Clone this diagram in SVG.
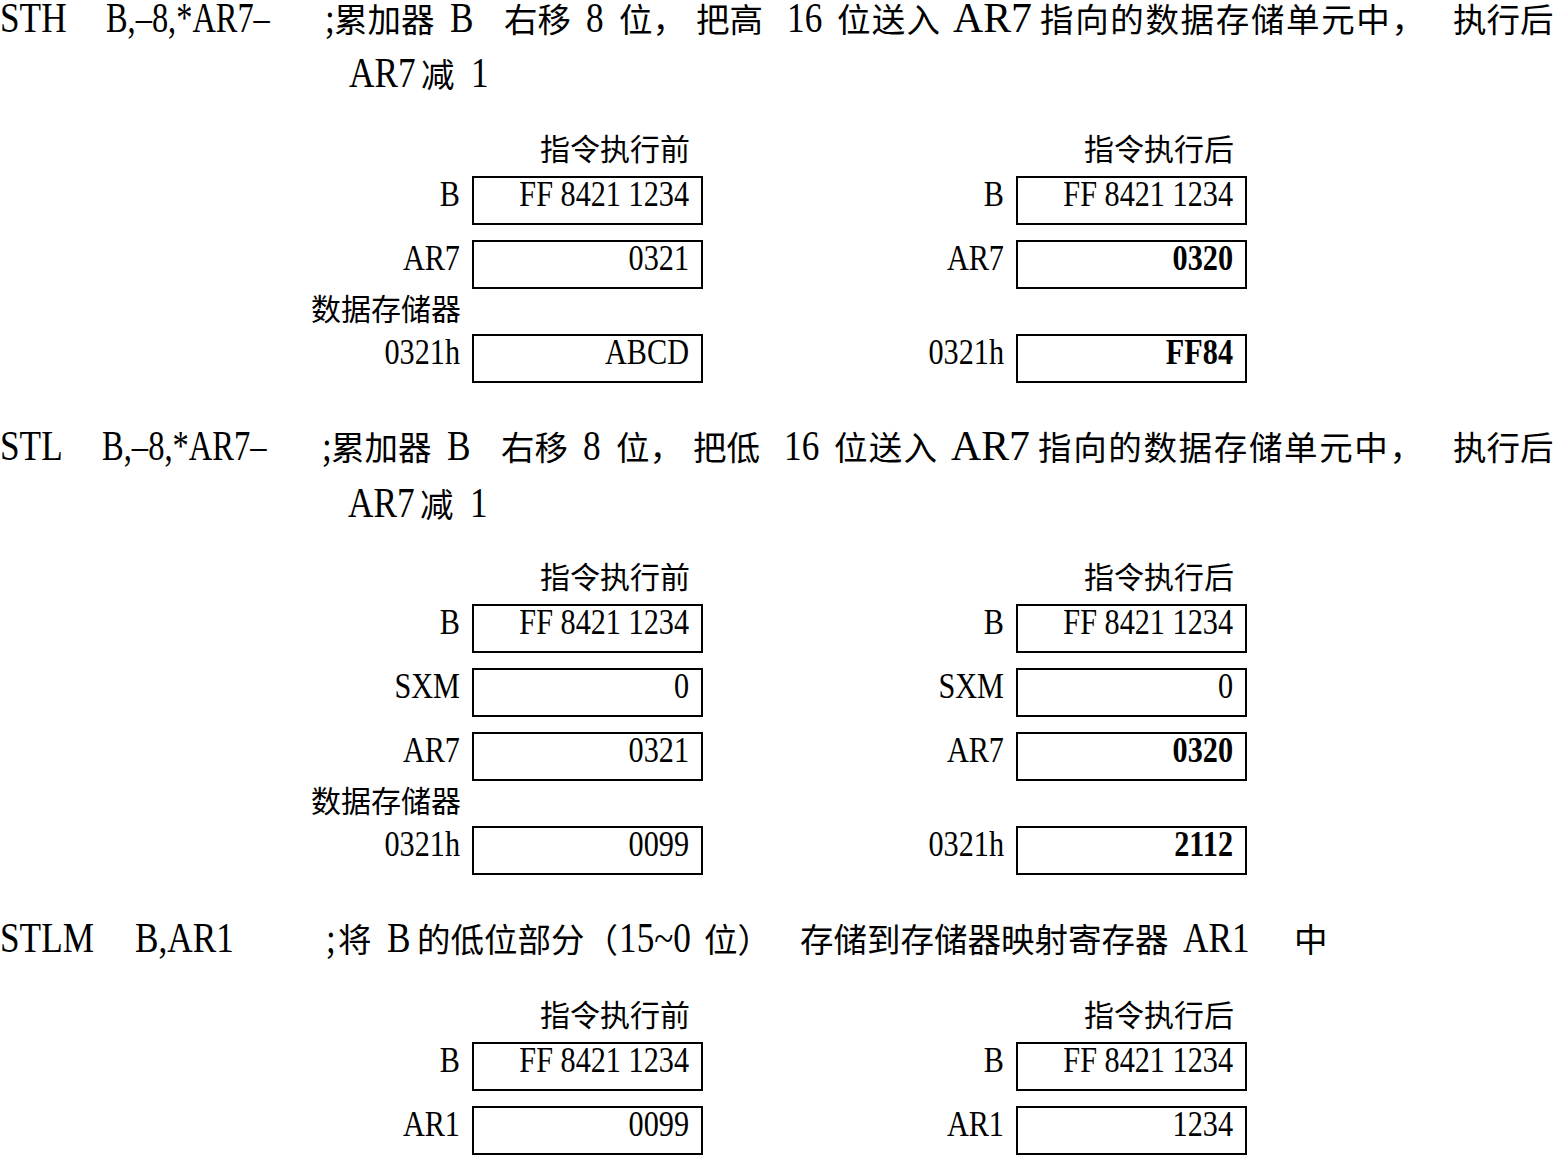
<svg xmlns="http://www.w3.org/2000/svg" width="1554" height="1156" viewBox="0 0 1554 1156">
<style>
.l{font-family:"Liberation Serif","Times New Roman",serif;fill:#000}
.c{font-family:"Noto Sans CJK SC","Noto Sans CJK TC",sans-serif;fill:#000}
.big{font-size:42px}
.sm{font-size:36px}
.cb{font-size:33.5px}
.cs{font-size:30px}
.e{text-anchor:end}
.b{font-weight:bold}
.box{fill:none;stroke:#000;stroke-width:2}
</style>
<rect width="1554" height="1156" fill="#fff"/>

<!-- ===== Section 1: STH ===== -->
<g id="sec-sth">
  <g id="sth-text">
    <text class="l big" transform="translate(0 32) scale(.84 1)">STH</text>
    <text class="l big" transform="translate(106 32) scale(.84 1)" textLength="195" lengthAdjust="spacingAndGlyphs">B,–8,*AR7–</text>
    <text class="l big" transform="translate(325 32) scale(.84 1)">;</text>
    <text class="c cb" x="334" y="32">累加器</text>
    <text class="l big" transform="translate(450 32) scale(.84 1)">B</text>
    <text class="c cb" x="504" y="32">右移</text>
    <text class="l big" transform="translate(586 32) scale(.84 1)">8</text>
    <text class="c cb" x="619" y="32">位，</text>
    <text class="c cb" x="696" y="32">把高</text>
    <text class="l big" transform="translate(787 32) scale(.84 1)">16</text>
    <text class="c cb" x="837" y="32" textLength="103" lengthAdjust="spacing">位送入</text>
    <text class="l big" transform="translate(953 32) scale(.84 1)" textLength="94" lengthAdjust="spacingAndGlyphs">AR7</text>
    <text class="c cb" x="1040" y="32" textLength="385" lengthAdjust="spacing">指向的数据存储单元中，</text>
    <text class="c cb" x="1453" y="32">执行后</text>
    <text class="l big" transform="translate(349 87) scale(.84 1)">AR7</text>
    <text class="c cb" x="421" y="87">减</text>
    <text class="l big" transform="translate(471 87) scale(.84 1)">1</text>
  </g>
  <g id="sth-before">
    <text class="c cs e" x="690" y="160">指令执行前</text>
    <g id="sth-before-B">
      <text class="l sm e" transform="translate(460 206) scale(.84 1)">B</text>
      <rect class="box" x="473" y="177" width="229" height="47"/>
      <text class="l sm e" transform="translate(689 206) scale(.84 1)">FF 8421 1234</text>
    </g>
    <g id="sth-before-AR7">
      <text class="l sm e" transform="translate(460 270) scale(.84 1)">AR7</text>
      <rect class="box" x="473" y="241" width="229" height="47"/>
      <text class="l sm e" transform="translate(689 270) scale(.84 1)">0321</text>
    </g>
    <text class="c cs e" x="461" y="320">数据存储器</text>
    <g id="sth-before-mem">
      <text class="l sm e" transform="translate(460 364) scale(.84 1)">0321h</text>
      <rect class="box" x="473" y="335" width="229" height="47"/>
      <text class="l sm e" transform="translate(689 364) scale(.84 1)">ABCD</text>
    </g>
  </g>
  <g id="sth-after">
    <text class="c cs e" x="1234" y="160">指令执行后</text>
    <g id="sth-after-B">
      <text class="l sm e" transform="translate(1004 206) scale(.84 1)">B</text>
      <rect class="box" x="1017" y="177" width="229" height="47"/>
      <text class="l sm e" transform="translate(1233 206) scale(.84 1)">FF 8421 1234</text>
    </g>
    <g id="sth-after-AR7">
      <text class="l sm e" transform="translate(1004 270) scale(.84 1)">AR7</text>
      <rect class="box" x="1017" y="241" width="229" height="47"/>
      <text class="l sm e b" transform="translate(1233 270) scale(.84 1)">0320</text>
    </g>
    <g id="sth-after-mem">
      <text class="l sm e" transform="translate(1004 364) scale(.84 1)">0321h</text>
      <rect class="box" x="1017" y="335" width="229" height="47"/>
      <text class="l sm e b" transform="translate(1233 364) scale(.84 1)">FF84</text>
    </g>
  </g>
</g>

<!-- ===== Section 2: STL ===== -->
<g id="sec-stl">
  <g id="stl-text">
    <text class="l big" transform="translate(0 460) scale(.84 1)">STL</text>
    <text class="l big" transform="translate(102 460) scale(.84 1)" textLength="196" lengthAdjust="spacingAndGlyphs">B,–8,*AR7–</text>
    <text class="l big" transform="translate(322 460) scale(.84 1)">;</text>
    <text class="c cb" x="331" y="460">累加器</text>
    <text class="l big" transform="translate(447 460) scale(.84 1)">B</text>
    <text class="c cb" x="501" y="460">右移</text>
    <text class="l big" transform="translate(583 460) scale(.84 1)">8</text>
    <text class="c cb" x="616" y="460">位，</text>
    <text class="c cb" x="693" y="460">把低</text>
    <text class="l big" transform="translate(784 460) scale(.84 1)">16</text>
    <text class="c cb" x="834" y="460" textLength="103" lengthAdjust="spacing">位送入</text>
    <text class="l big" transform="translate(951 460) scale(.84 1)" textLength="94" lengthAdjust="spacingAndGlyphs">AR7</text>
    <text class="c cb" x="1038" y="460" textLength="385" lengthAdjust="spacing">指向的数据存储单元中，</text>
    <text class="c cb" x="1453" y="460">执行后</text>
    <text class="l big" transform="translate(348 517) scale(.84 1)">AR7</text>
    <text class="c cb" x="420" y="517">减</text>
    <text class="l big" transform="translate(470 517) scale(.84 1)">1</text>
  </g>
  <g id="stl-before">
    <text class="c cs e" x="690" y="588">指令执行前</text>
    <g id="stl-before-B">
      <text class="l sm e" transform="translate(460 634) scale(.84 1)">B</text>
      <rect class="box" x="473" y="605" width="229" height="47"/>
      <text class="l sm e" transform="translate(689 634) scale(.84 1)">FF 8421 1234</text>
    </g>
    <g id="stl-before-SXM">
      <text class="l sm e" transform="translate(460 698) scale(.84 1)">SXM</text>
      <rect class="box" x="473" y="669" width="229" height="47"/>
      <text class="l sm e" transform="translate(689 698) scale(.84 1)">0</text>
    </g>
    <g id="stl-before-AR7">
      <text class="l sm e" transform="translate(460 762) scale(.84 1)">AR7</text>
      <rect class="box" x="473" y="733" width="229" height="47"/>
      <text class="l sm e" transform="translate(689 762) scale(.84 1)">0321</text>
    </g>
    <text class="c cs e" x="461" y="812">数据存储器</text>
    <g id="stl-before-mem">
      <text class="l sm e" transform="translate(460 856) scale(.84 1)">0321h</text>
      <rect class="box" x="473" y="827" width="229" height="47"/>
      <text class="l sm e" transform="translate(689 856) scale(.84 1)">0099</text>
    </g>
  </g>
  <g id="stl-after">
    <text class="c cs e" x="1234" y="588">指令执行后</text>
    <g id="stl-after-B">
      <text class="l sm e" transform="translate(1004 634) scale(.84 1)">B</text>
      <rect class="box" x="1017" y="605" width="229" height="47"/>
      <text class="l sm e" transform="translate(1233 634) scale(.84 1)">FF 8421 1234</text>
    </g>
    <g id="stl-after-SXM">
      <text class="l sm e" transform="translate(1004 698) scale(.84 1)">SXM</text>
      <rect class="box" x="1017" y="669" width="229" height="47"/>
      <text class="l sm e" transform="translate(1233 698) scale(.84 1)">0</text>
    </g>
    <g id="stl-after-AR7">
      <text class="l sm e" transform="translate(1004 762) scale(.84 1)">AR7</text>
      <rect class="box" x="1017" y="733" width="229" height="47"/>
      <text class="l sm e b" transform="translate(1233 762) scale(.84 1)">0320</text>
    </g>
    <g id="stl-after-mem">
      <text class="l sm e" transform="translate(1004 856) scale(.84 1)">0321h</text>
      <rect class="box" x="1017" y="827" width="229" height="47"/>
      <text class="l sm e b" transform="translate(1233 856) scale(.84 1)">2112</text>
    </g>
  </g>
</g>

<!-- ===== Section 3: STLM ===== -->
<g id="sec-stlm">
  <g id="stlm-text">
    <text class="l big" transform="translate(0 952) scale(.84 1)">STLM</text>
    <text class="l big" transform="translate(135 952) scale(.84 1)">B,AR1</text>
    <text class="l big" transform="translate(326 952) scale(.84 1)">;</text>
    <text class="c cb" x="338" y="952">将</text>
    <text class="l big" transform="translate(387 952) scale(.84 1)">B</text>
    <text class="c cb" x="417" y="952">的低位部分（</text>
    <text class="l big" transform="translate(619 952) scale(.84 1)">15~0</text>
    <text class="c cb" x="704" y="952">位）</text>
    <text class="c cb" x="800" y="952">存储到存储器映射寄存器</text>
    <text class="l big" transform="translate(1183 952) scale(.84 1)">AR1</text>
    <text class="c cb" x="1294" y="952">中</text>
  </g>
  <g id="stlm-before">
    <text class="c cs e" x="690" y="1026">指令执行前</text>
    <g id="stlm-before-B">
      <text class="l sm e" transform="translate(460 1072) scale(.84 1)">B</text>
      <rect class="box" x="473" y="1043" width="229" height="47"/>
      <text class="l sm e" transform="translate(689 1072) scale(.84 1)">FF 8421 1234</text>
    </g>
    <g id="stlm-before-AR1">
      <text class="l sm e" transform="translate(460 1136) scale(.84 1)">AR1</text>
      <rect class="box" x="473" y="1107" width="229" height="47"/>
      <text class="l sm e" transform="translate(689 1136) scale(.84 1)">0099</text>
    </g>
  </g>
  <g id="stlm-after">
    <text class="c cs e" x="1234" y="1026">指令执行后</text>
    <g id="stlm-after-B">
      <text class="l sm e" transform="translate(1004 1072) scale(.84 1)">B</text>
      <rect class="box" x="1017" y="1043" width="229" height="47"/>
      <text class="l sm e" transform="translate(1233 1072) scale(.84 1)">FF 8421 1234</text>
    </g>
    <g id="stlm-after-AR1">
      <text class="l sm e" transform="translate(1004 1136) scale(.84 1)">AR1</text>
      <rect class="box" x="1017" y="1107" width="229" height="47"/>
      <text class="l sm e" transform="translate(1233 1136) scale(.84 1)">1234</text>
    </g>
  </g>
</g>
</svg>
